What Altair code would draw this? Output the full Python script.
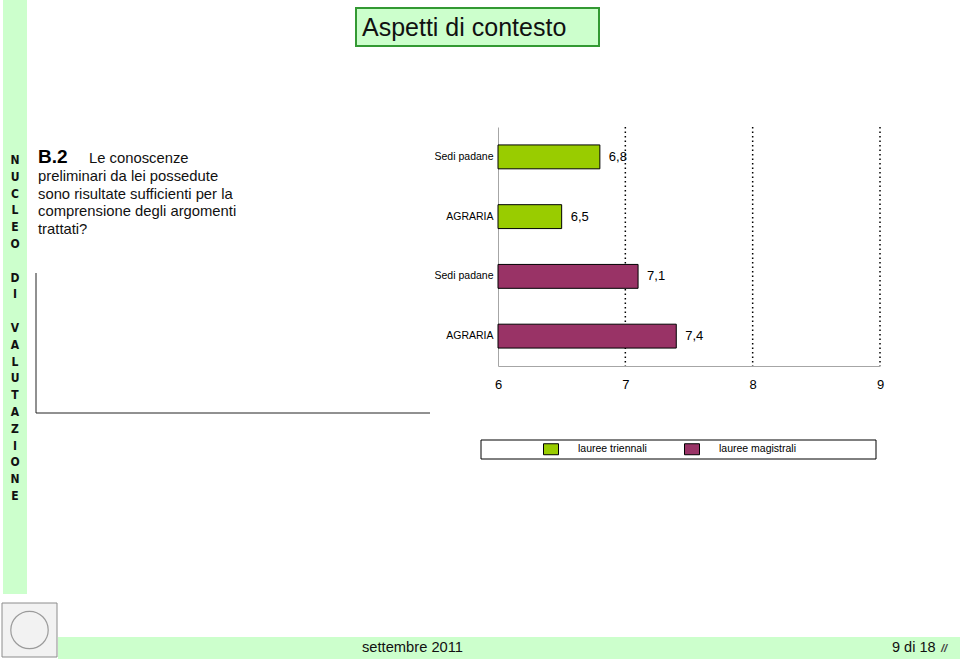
import altair as alt
import pandas as pd

# ---- data ----
categories = ["Sedi padane", "AGRARIA"]
series = ["lauree triennali", "lauree magistrali"]
triennali = [6.8, 6.5]
magistrali = [7.1, 7.4]
ticks = [6, 7, 8, 9]
colors = ["#99cc00", "#993366"]

FONT = "Liberation Sans"
NARROW = "Liberation Sans Narrow, DejaVu Sans Condensed, Liberation Sans"

rows = []
for s, vals in zip(series, [triennali, magistrali]):
    for c, v in zip(categories, vals):
        rows.append({"serie": s, "cat": c, "key": s + "|" + c, "v": v})
df = pd.DataFrame(rows)
keys = list(df["key"])
grid_df = pd.DataFrame({"t": [t for t in ticks if t > ticks[0]]})

# plot area placement on the page
OX, OY = 498, 127
W, H = 382, 239

one = alt.InlineData(values=[{"d": 0}])


def txt(s, x, y, size, font=FONT, **kw):
    return alt.Chart(one).mark_text(
        align="left", baseline="alphabetic", fontSize=size, font=font, **kw
    ).encode(x=alt.value(x - OX), y=alt.value(y - OY), text=alt.value(s))


def box(x1, y1, x2, y2, **kw):
    return alt.Chart(one).mark_rect(**kw).encode(
        x=alt.value(x1 - OX), x2=alt.value(x2 - OX),
        y=alt.value(y1 - OY), y2=alt.value(y2 - OY))


def line(x1, y1, x2, y2, **kw):
    return alt.Chart(one).mark_rule(**kw).encode(
        x=alt.value(x1 - OX), x2=alt.value(x2 - OX),
        y=alt.value(y1 - OY), y2=alt.value(y2 - OY))


def vword(word, y):
    return alt.Chart(one).mark_text(align="center", baseline="alphabetic", fontSize=12,
                                    font=NARROW, fontWeight="bold", lineHeight=16.8,
                                    color="#111").encode(
        x=alt.value(15 - OX), y=alt.value(y - OY), text=alt.value(list(word)))


xscale = alt.Scale(domain=[ticks[0], ticks[-1]], zero=False, nice=False)
yscale = alt.Scale(paddingInner=0.6, paddingOuter=0.3)

grid = alt.Chart(grid_df).mark_rule(color="black", strokeWidth=1.5, strokeDash=[1.5, 3]).encode(
    x=alt.X("t:Q", scale=xscale, title=None),
    y=alt.value(0), y2=alt.value(H))

bars = alt.Chart(df).mark_bar(stroke="black", strokeWidth=1, opacity=1).encode(
    x=alt.X("v:Q", scale=xscale, title=None,
            axis=alt.Axis(values=ticks, grid=False, ticks=False, domainColor="#a6a6a6",
                          labelFontSize=13, labelPadding=12, labelColor="black",
                          labelFlush=False, labelFont=FONT, format="d")),
    x2=alt.datum(ticks[0]),
    y=alt.Y("key:N", sort=keys, scale=yscale, title=None,
            axis=alt.Axis(labelExpr="split(datum.label, '|')[1]", ticks=False,
                          domainColor="#a6a6a6", labelFontSize=10.5, labelPadding=5,
                          labelColor="black", labelFont=FONT)),
    color=alt.Color("serie:N", scale=alt.Scale(domain=series, range=colors),
                    legend=alt.Legend(orient="none", legendX=45, legendY=314,
                                      direction="horizontal", title=None, padding=0,
                                      symbolType="M-1,-0.733L1,-0.733L1,0.733L-1,0.733Z",
                                      symbolSize=225, symbolStrokeColor="black",
                                      symbolStrokeWidth=1, symbolOpacity=1,
                                      labelFontSize=10.5, labelOffset=19, columnPadding=35,
                                      labelFont=FONT, labelColor="black")))

values = alt.Chart(df).transform_calculate(
    lab="replace(format(datum.v, '.1f'), '.', ',')"
).mark_text(align="left", baseline="middle", dx=9, fontSize=13, font=FONT, color="black").encode(
    x=alt.X("v:Q", scale=xscale, title=None),
    y=alt.Y("key:N", sort=keys, scale=yscale, title=None),
    text="lab:N")

deco = [
    box(3, 0, 27, 594, color="#ccffcc"),
    vword("NUCLEO", 164),
    vword("DI", 164 + 7 * 16.8),
    vword("VALUTAZIONE", 164 + 10 * 16.8),
    box(356, 8, 599, 46, fill="#ccffcc", stroke="#339933", strokeWidth=2),
    txt("Aspetti di contesto", 362, 36, 25, color="#111"),
    txt("B.2", 38, 163, 19, fontWeight="bold", color="black"),
    txt("Le conoscenze", 89, 163, 14.8, color="#111"),
    alt.Chart(one).mark_text(align="left", baseline="alphabetic", fontSize=14.8, font=FONT,
                             lineHeight=17.6, color="#111").encode(
        x=alt.value(38 - OX), y=alt.value(181 - OY),
        text=alt.value(["preliminari da lei possedute", "sono risultate sufficienti per la",
                        "comprensione degli argomenti", "trattati?"])),
    line(36, 273, 36, 413, color="#222", strokeWidth=1),
    line(36, 413, 430, 413, color="#222", strokeWidth=1),
    box(481, 440, 876, 459, fill="white", stroke="black", strokeWidth=1),
    box(58, 637, 960, 659, color="#ccffcc"),
    txt("settembre 2011", 362, 652, 14.7, color="#111"),
    txt("9 di 18", 892, 652, 14.5, color="#111"),
    txt("//", 941, 652, 11, fontWeight="bold", fontStyle="italic", color="#444"),
    box(2, 603, 57, 657, fill="#f2f2f2", stroke="#8c8c8c", strokeWidth=1),
    alt.Chart(one).mark_point(shape="circle", size=1400, stroke="#777", strokeWidth=1.2,
                              filled=False).encode(
        x=alt.value(29.5 - OX), y=alt.value(630 - OY)),
]

chart = alt.layer(*deco, grid, bars, values).properties(
    width=W, height=H,
    padding={"left": OX, "top": OY, "right": 960 - OX - W, "bottom": 659 - OY - H},
    autosize=alt.AutoSizeParams(type="none"),
    background="white",
).configure_view(stroke=None)

chart.save("out.html", embed_options={"renderer": "svg", "actions": False})
